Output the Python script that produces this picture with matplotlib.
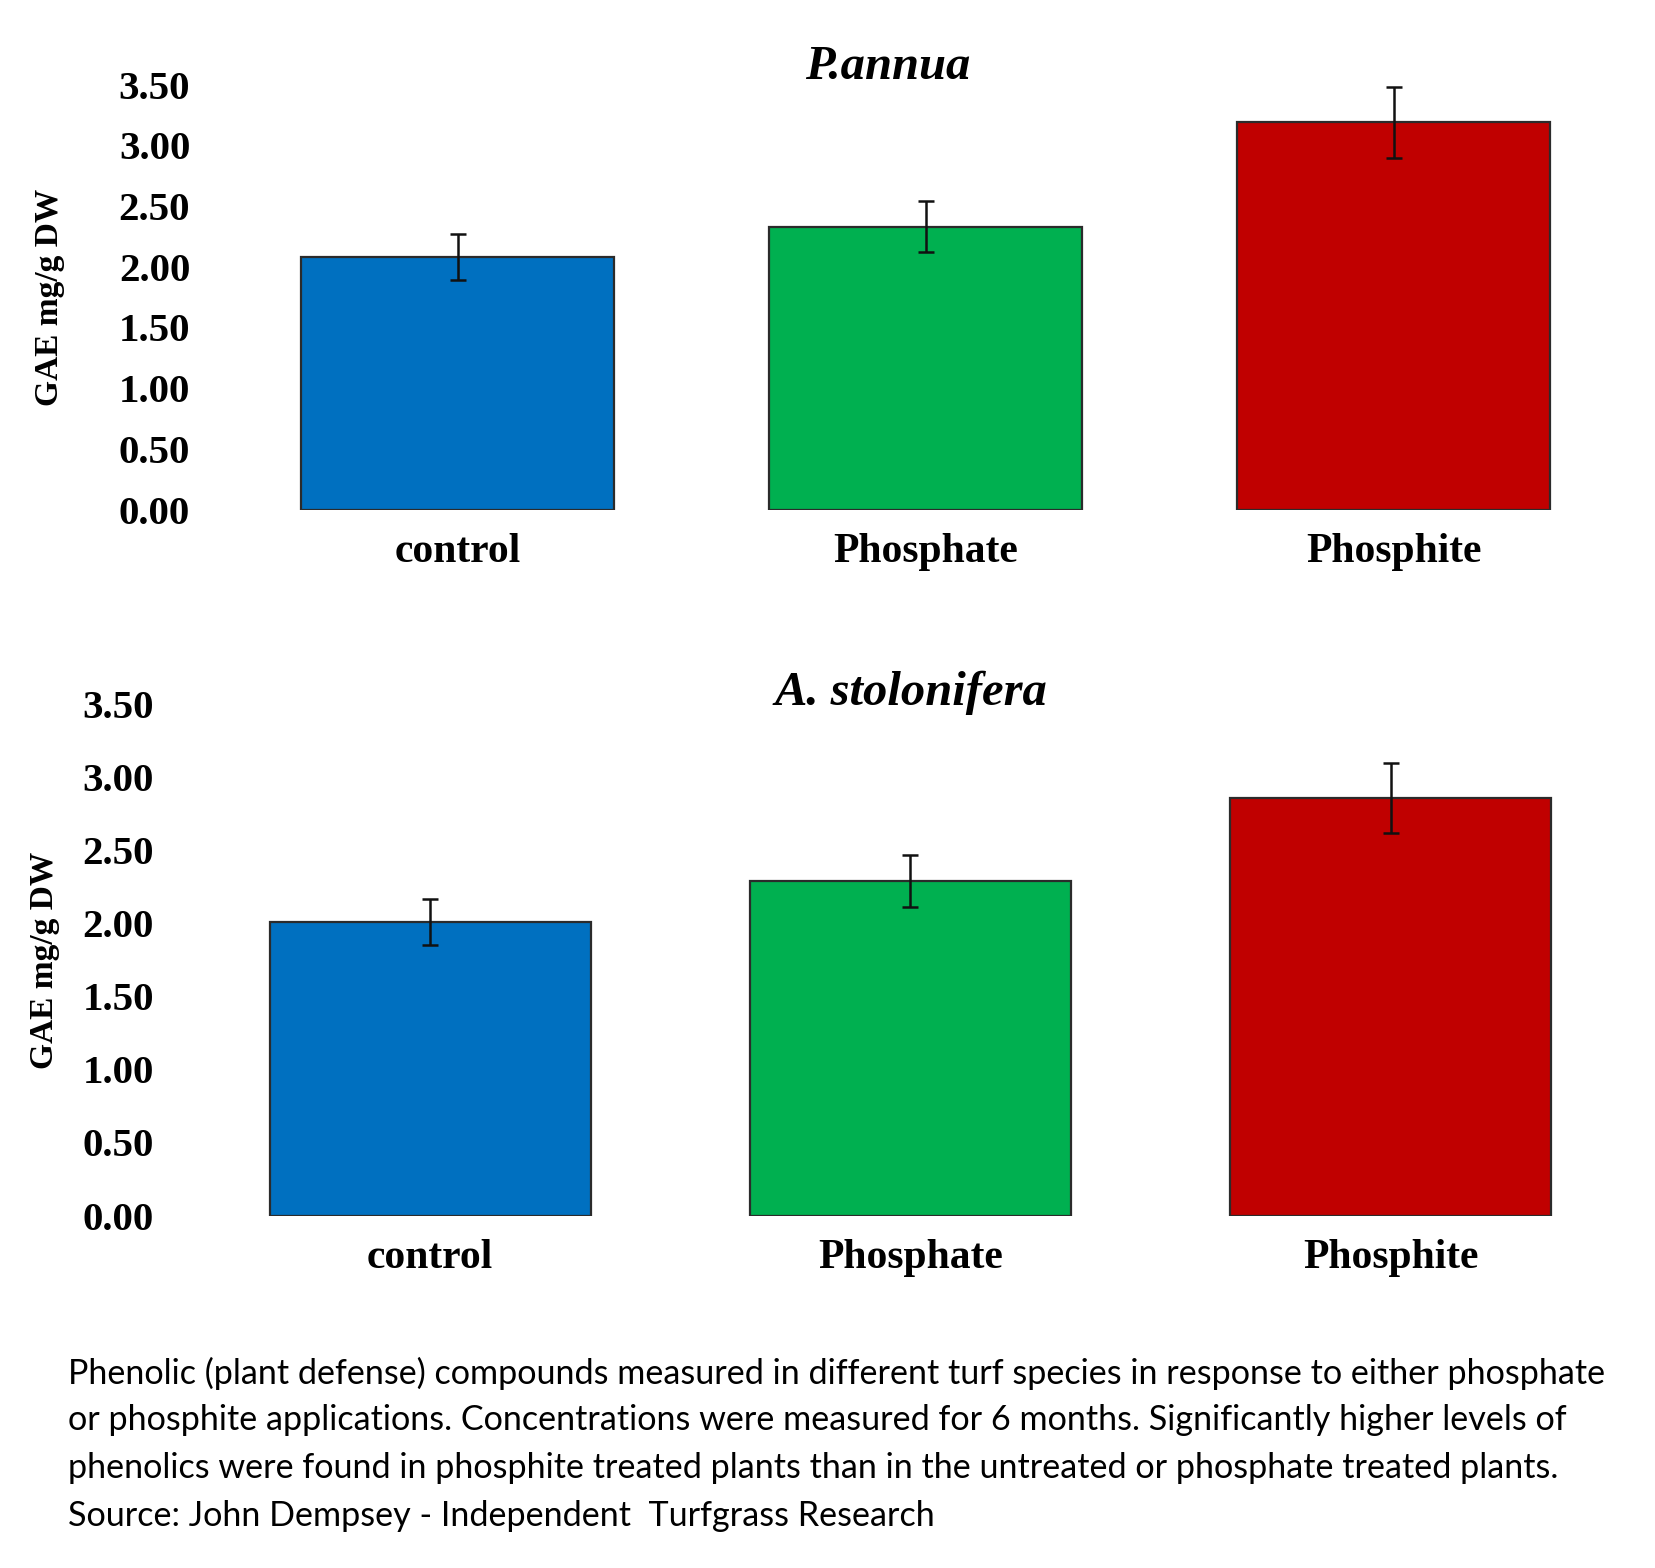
import matplotlib
matplotlib.use("Agg")
import matplotlib.pyplot as plt
import numpy as np

categories = ["control", "Phosphate", "Phosphite"]
colors = ["#0070C0", "#00B050", "#C00000"]

annua_vals = [2.08, 2.33, 3.19]
annua_err = [0.19, 0.21, 0.29]

stolon_vals = [2.01, 2.29, 2.86]
stolon_err = [0.16, 0.18, 0.24]

yticks = [0.0, 0.5, 1.0, 1.5, 2.0, 2.5, 3.0, 3.5]

caption_lines = [
    "Phenolic (plant defense) compounds measured in different turf species in response to either phosphate",
    "or phosphite applications. Concentrations were measured for 6 months. Significantly higher levels of",
    "phenolics were found in phosphite treated plants than in the untreated or phosphate treated plants.",
    "Source: John Dempsey - Independent  Turfgrass Research",
]

serif = "Liberation Serif"

fig = plt.figure(figsize=(16.56, 15.68), dpi=100)


def draw_panel(ax, vals, errs, title, pad, title_x, title_y):
    x = np.arange(len(categories))
    ax.bar(x, vals, width=0.668, color=colors, edgecolor="#2b2b2b", linewidth=1.6,
           yerr=errs, capsize=6, error_kw=dict(ecolor="#111111", elinewidth=1.8, capthick=1.8))
    ax.set_xlim(-0.5, 2.5)
    ax.set_ylim(0, 3.5)
    ax.set_yticks(yticks)
    ax.set_yticklabels(["%.2f" % t for t in yticks], fontfamily=serif, fontweight="bold", fontsize=29.5)
    ax.set_xticks(x)
    ax.set_xticklabels(categories, fontfamily=serif, fontweight="bold", fontsize=30)
    ax.tick_params(axis="y", length=0, pad=pad)
    ax.tick_params(axis="x", length=0, pad=17)
    for s in ax.spines.values():
        s.set_visible(False)
    ax.text(title_x, title_y, title, transform=ax.transAxes, ha="center", va="center",
            fontfamily=serif, fontweight="bold", fontstyle="italic", fontsize=35)
    ax.set_ylabel("GAE mg/g DW", fontfamily=serif, fontweight="bold", fontsize=24)


ax1 = fig.add_axes([0.135, 0.675, 0.848, 0.271])
draw_panel(ax1, annua_vals, annua_err, "P.annua", 24, 0.4726, 1.042)
ax1.yaxis.set_label_coords(-0.113, 0.5)

ax2 = fig.add_axes([0.1148, 0.2248, 0.870, 0.326])
draw_panel(ax2, stolon_vals, stolon_err, "A. stolonifera", 26, 0.5, 1.022)
ax2.yaxis.set_label_coords(-0.09, 0.5)

line_y = [1373, 1420, 1468, 1516]
for txt, yp in zip(caption_lines, line_y):
    fig.text(68 / 1656, 1 - yp / 1568, txt, fontfamily="Lato", fontsize=24.6, va="center", ha="left")

fig.savefig("out.png", dpi=100)
